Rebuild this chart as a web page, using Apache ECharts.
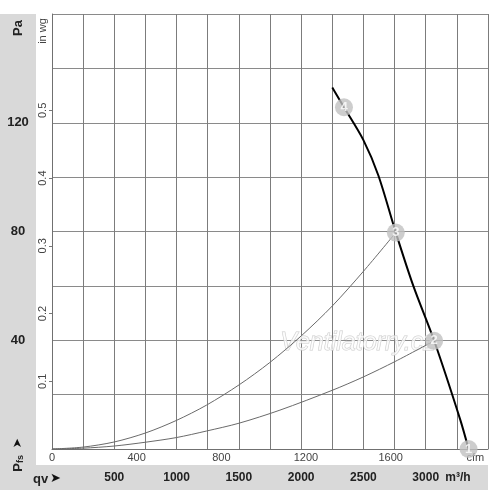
<!DOCTYPE html>
<html>
<head>
<meta charset="utf-8">
<script src="https://cdn.jsdelivr.net/npm/echarts@6/dist/echarts.min.js"></script>
<style>
html,body{margin:0;padding:0;background:#fff;}
#c{width:500px;height:490px;}
</style>
</head>
<body>
<div id="c"></div>
<script>
// Fan curve (black), flow in m³/h, pressure in Pa
var fanFlow = [2250, 2344, 2499, 2620, 2760, 2902, 3068, 3277, 3344];
var fanPressure = [133.0, 125.7, 113.7, 100.6, 79.6, 59.8, 39.8, 10.8, 0];
// System curve to operating point 3
var sys3Flow = [0, 250, 501, 751, 998, 1239, 1502, 1748, 2003, 2250, 2499, 2760];
var sys3Pressure = [0, 0.7, 2.6, 5.9, 10.5, 16.1, 23.6, 31.8, 41.7, 52.6, 65.3, 79.6];
// System curve to operating point 2
var sys2Flow = [0, 250, 501, 751, 998, 1239, 1502, 1830, 2250, 2499, 2755, 3068];
var sys2Pressure = [0, 0.3, 1.1, 2.5, 4.2, 6.6, 9.5, 14.3, 21.6, 26.5, 32.2, 39.8];
// Numbered operating points
var pointNames = ['1', '2', '3', '4'];
var pointFlow = [3344, 3068, 2760, 2344];
var pointPressure = [0, 39.8, 79.6, 125.7];
// Tick labels
var m3hLabels = [500, 1000, 1500, 2000, 2500, 3000];
var cfmLabels = [0, 400, 800, 1200, 1600];
var paLabels = [40, 80, 120];
var inwgLabels = [0.1, 0.2, 0.3, 0.4, 0.5];

var FLOW_MAX = 3500, P_MAX = 160;
var M3H_PER_CFM = 1.69901, PA_PER_INWG = 249.089;

function zip(a, b) { return a.map(function (v, i) { return [v, b[i]]; }); }

var font = 'Liberation Sans, Arial, sans-serif';
var chart = echarts.init(document.getElementById('c'));
chart.setOption({
  animation: false,
  backgroundColor: '#fff',
  grid: { left: 52, right: 12, top: 14, bottom: 41 },
  graphic: [
    { type: 'rect', z: -10, shape: { x: 0, y: 14, width: 36, height: 476 }, style: { fill: '#d9d9d9' } },
    { type: 'rect', z: -10, shape: { x: 0, y: 465, width: 488, height: 25 }, style: { fill: '#d9d9d9' } },
    { type: 'text', x: 18, y: 28, rotation: Math.PI / 2,
      style: { text: 'Pa', font: 'bold 13px ' + font, fill: '#222', align: 'center', verticalAlign: 'middle' } },
    { type: 'text', x: 43, y: 31, rotation: Math.PI / 2,
      style: { text: 'in wg', font: '11px ' + font, fill: '#444', align: 'center', verticalAlign: 'middle' } },
    { type: 'text', x: 18, y: 455, rotation: Math.PI / 2,
      style: { text: '{p|P}{s|fs}  {a|➤}', align: 'center', verticalAlign: 'middle',
        rich: {
          p: { font: 'bold 13px ' + font, fill: '#222' },
          s: { font: 'bold 9px ' + font, fill: '#222', verticalAlign: 'bottom', padding: [6, 0, 0, 0] },
          a: { font: '12px DejaVu Sans', fill: '#111' }
        } } },
    { type: 'text', x: 33, y: 479,
      style: { text: 'qv', font: 'bold 13px ' + font, fill: '#222', align: 'left', verticalAlign: 'middle' } },
    { type: 'text', x: 50, y: 479,
      style: { text: '➤', font: '13px DejaVu Sans', fill: '#111', align: 'left', verticalAlign: 'middle' } },
    { type: 'text', x: 458, y: 478,
      style: { text: 'm³/h', font: 'bold 12px ' + font, fill: '#222', align: 'center', verticalAlign: 'middle' } },
    { type: 'text', x: 358, y: 343, z: 1,
      style: { text: 'Ventilatorry.cz', font: 'italic 25px ' + font, fill: 'rgba(255,255,255,0.7)',
        stroke: '#cccccc', lineWidth: 1, align: 'center', verticalAlign: 'middle' } }
  ],
  xAxis: [
    { type: 'value', min: 0, max: FLOW_MAX, interval: 250, position: 'bottom',
      axisLine: { show: true, onZero: false, lineStyle: { color: '#707070', width: 1 } },
      axisTick: { show: false },
      splitLine: { show: true, lineStyle: { color: '#7c7c7c', width: 1 } },
      axisLabel: { margin: 23, fontFamily: font, fontWeight: 'bold', fontSize: 12, color: '#222',
        showMinLabel: true, showMaxLabel: true,
        formatter: function (v) { return m3hLabels.indexOf(v) >= 0 ? String(v) : ''; } } },
    { type: 'value', min: 0, max: FLOW_MAX / M3H_PER_CFM, interval: 400, position: 'bottom',
      axisLine: { show: false }, axisTick: { show: false }, splitLine: { show: false },
      axisLabel: { margin: 3, fontFamily: font, fontSize: 11, color: '#444',
        formatter: function (v) {
          if (Math.abs(v - 2000) < 1e-6) return 'cfm';
          return cfmLabels.indexOf(v) >= 0 ? String(v) : '';
        } } }
  ],
  yAxis: [
    { type: 'value', min: 0, max: P_MAX, interval: 20, position: 'left',
      axisLine: { show: true, onZero: false, lineStyle: { color: '#707070', width: 1 } },
      axisTick: { show: false },
      splitLine: { show: true, lineStyle: { color: '#8a8a8a', width: 1 } },
      axisLabel: { margin: 34, align: 'center', fontFamily: font, fontWeight: 'bold', fontSize: 13, color: '#222',
        formatter: function (v) { return paLabels.indexOf(v) >= 0 ? String(v) : ''; } } },
    { type: 'value', min: 0, max: P_MAX / PA_PER_INWG, interval: 0.1, position: 'left',
      axisLine: { show: false }, splitLine: { show: false },
      axisTick: { show: true, length: 3, lineStyle: { color: '#777' },
        customValues: inwgLabels },
      axisLabel: { margin: 4, rotate: 90, fontFamily: font, fontSize: 11, color: '#444',
        customValues: inwgLabels,
        formatter: function (v) { return v.toFixed(1); } } }
  ],
  series: [
    { type: 'line', data: zip(sys3Flow, sys3Pressure), smooth: 0.3, symbol: 'none',
      lineStyle: { color: '#6a6a6a', width: 1 }, z: 2 },
    { type: 'line', data: zip(sys2Flow, sys2Pressure), smooth: 0.3, symbol: 'none',
      lineStyle: { color: '#6a6a6a', width: 1 }, z: 2 },
    { type: 'line', data: zip(fanFlow, fanPressure), smooth: 0.3, symbol: 'none',
      lineStyle: { color: '#000', width: 2 }, z: 3 },
    { type: 'scatter', clip: false, z: 5,
      data: pointFlow.map(function (v, i) { return { value: [v, pointPressure[i]], name: pointNames[i] }; }),
      symbol: 'circle', symbolSize: 18,
      itemStyle: { color: '#c0c0c0' },
      label: { show: true, position: 'inside', formatter: '{b}', color: '#fff',
        fontFamily: font, fontWeight: 'bold', fontSize: 13 } }
  ]
});
</script>
</body>
</html>
